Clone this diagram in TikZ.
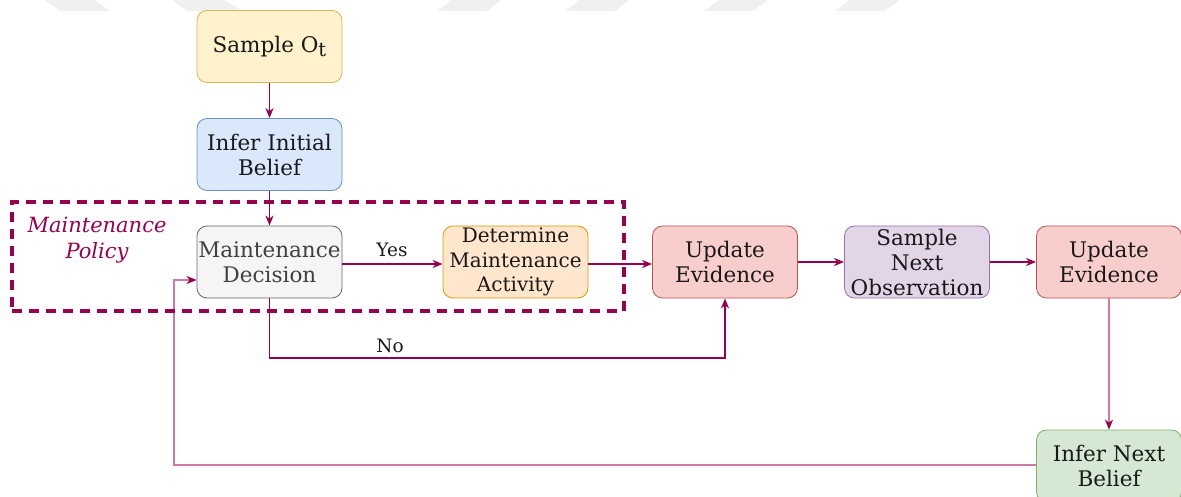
\documentclass[tikz,border=0pt]{standalone}
\usepackage{fontspec}
\setmainfont{DejaVu Serif}
\usetikzlibrary{arrows.meta}

\definecolor{linkc}{RGB}{153,0,77}
\definecolor{linklight}{RGB}{210,120,165}
\definecolor{yelF}{HTML}{FFF2CC}\definecolor{yelD}{HTML}{D6B656}
\definecolor{bluF}{HTML}{DAE8FC}\definecolor{bluD}{HTML}{6C8EBF}
\definecolor{gryF}{HTML}{F5F5F5}\definecolor{gryD}{HTML}{666666}
\definecolor{orgF}{HTML}{FFE6CC}\definecolor{orgD}{HTML}{D79B00}
\definecolor{redF}{HTML}{F8CECC}\definecolor{redD}{HTML}{B85450}
\definecolor{purF}{HTML}{E1D5E7}\definecolor{purD}{HTML}{9673A6}
\definecolor{grnF}{HTML}{D5E8D4}\definecolor{grnD}{HTML}{82B366}
\definecolor{stripegray}{HTML}{F0F0F0}

\tikzset{
  box/.style={draw, rounded corners=10pt, minimum width=145pt, minimum height=72pt,
    inner sep=0pt, align=center, line width=0.8pt, text=black!90,
    font=\fontsize{21.5}{25}\selectfont},
  smallbox/.style={box, font=\fontsize{20}{24.5}\selectfont},
  conn/.style={draw=linkc, line width=1.3pt, -{Stealth[length=10pt,width=8pt,inset=3pt]}},
  connlight/.style={draw=linklight, line width=1.3pt,
    -{Stealth[length=10pt,width=8pt,inset=3pt,color=linkc]}},
  lbl/.style={font=\fontsize{18.5}{21}\selectfont, text=black!90},
  policyframe/.style={draw=linkc, line width=3.5pt, dash pattern=on 10pt off 7pt,
    minimum width=612pt, minimum height=109pt, inner sep=0pt},
  policytext/.style={align=center, text=linkc, font=\itshape\fontsize{21}{26}\selectfont},
  headerstripe/.style={fill=stripegray},
}

\begin{document}
\begin{tikzpicture}[x=1pt,y=-1pt]
\useasboundingbox (0,0) rectangle (1181,497);
\clip (0,0) rectangle (1181,497);

% faint header stripes
\foreach \a/\b/\c/\d in {45/95/60/110, 172/225/187/242}
  \fill[headerstripe] (\a,0) -- (\b,0) -- (\d,11) -- (\c,11) -- cycle;
\foreach \a/\b/\c/\d in {452/501/437/487, 580/629/565/615, 719/768/704/753, 850/900/835/885}
  \fill[headerstripe] (\a,0) -- (\b,0) -- (\d,11) -- (\c,11) -- cycle;

% process steps
\node[box, fill=yelF, draw=yelD] (samp) at (269.5,46.5)
  {\raisebox{2pt}{Sample O\raisebox{-4pt}{\fontsize{19.5}{19}\selectfont t}}};
\node[box, fill=bluF, draw=bluD] (initb) at (269.5,154.5) {Infer Initial\\Belief};
\node[box, fill=gryF, draw=gryD, text=black!75] (dec) at (269.5,262) {Maintenance\\Decision};
\node[smallbox, fill=orgF, draw=orgD] (act) at (515.5,262) {Determine\\Maintenance\\Activity};
\node[box, fill=redF, draw=redD] (upd1) at (725,262) {Update\\Evidence};
\node[box, fill=purF, draw=purD] (nextobs) at (917,262) {Sample\\Next\\Observation};
\node[box, fill=redF, draw=redD] (upd2) at (1109,262) {Update\\Evidence};
\node[box, fill=grnF, draw=grnD] (nextb) at (1109,466) {Infer Next\\Belief};

% connectors
\draw[conn] (samp) -- (initb);
\draw[conn] (initb) -- (dec);
\draw[conn] ([yshift=-2pt]dec.east) -- ([yshift=-2pt]act.west);
\node[lbl] (yes) at (392,250) {Yes};
\draw[conn] ([yshift=-2pt]act.east) -- ([yshift=-2pt]upd1.west);
\draw[conn] (upd1) -- (nextobs);
\draw[conn] (nextobs) -- (upd2);
\draw[connlight] (upd2) -- (nextb);

\coordinate (nocorner) at (269.5,358);
\draw[conn] (dec.south) -- (nocorner) -| (upd1.south);
\node[lbl] (no) at (390,346) {No};

\coordinate (fbcorner) at (174,465);
\draw[connlight] (nextb.west |- fbcorner) -- (fbcorner) |- ([yshift=-18pt]dec.west);

% policy frame
\node[policyframe] (policy) at (318,256.5) {};
\node[policytext] (policylbl) at (97,240) {Maintenance\\Policy};
\end{tikzpicture}
\end{document}
